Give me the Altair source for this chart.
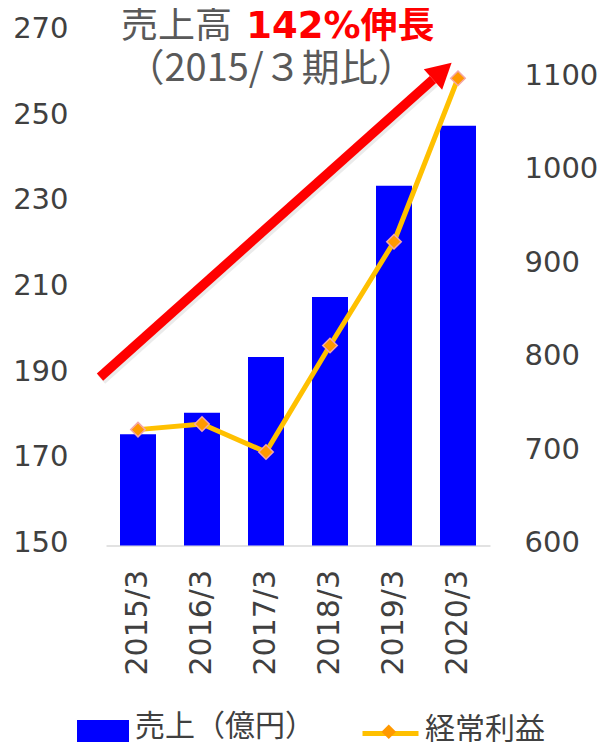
import math
import altair as alt
import pandas as pd

# ---- data ----
periods = ["2015/3", "2016/3", "2017/3", "2018/3", "2019/3", "2020/3"]
sales = [176, 181, 194, 208, 234, 248]          # 売上（億円） left axis
profit = [724, 730, 700, 814, 925, 1100]        # 経常利益 right axis
series_names = ["売上（億円）", "経常利益"]
marker_key = "経常利益（マーカー）"               # hidden key for the marker legend
sales_ticks = [150, 170, 190, 210, 230, 250, 270]
profit_ticks = [600, 700, 800, 900, 1000, 1100]
sales_domain = [150, 270]
profit_domain = [600, 1150]

# annotation texts and their anchors (x in category-slot units 0..6, y in sales units)
title_gray1 = ["売上高"]
title_gray1_x = [0.234]
title_gray1_y = [268.5]
title_gray2 = ["（2015/３期比）"]
title_gray2_x = [0.32]
title_gray2_y = [258.45]
title_red = ["142%伸長"]
title_red_x = [2.19]
title_red_y = [268.5]
arrow_from = [-0.094, 189.3]
arrow_to = [5.40, 262.7]

# ---- layout ----
W, H = 384, 514
px_x = W / len(periods)
px_y = H / (sales_domain[1] - sales_domain[0])
head_len = 25
dxp = (arrow_to[0] - arrow_from[0]) * px_x
dyp = (arrow_to[1] - arrow_from[1]) * px_y
L = math.hypot(dxp, dyp)
angle = math.degrees(math.atan2(dxp, dyp))
base_x = arrow_to[0] - head_len * dxp / L / px_x
base_y = arrow_to[1] - head_len * dyp / L / px_y

FONT_NUM = "DejaVu Sans"
FONT_JP = "Noto Sans CJK JP"
LABEL_COLOR = "#404040"
MARKER_SIZE = 210

df = pd.DataFrame({
    "period": periods, "sales": sales, "profit": profit,
    "s1": series_names[0], "s2": series_names[1], "s3": marker_key,
})

x_enc = alt.X(
    "period:N", sort=periods, title=None,
    scale=alt.Scale(paddingInner=0.4375, paddingOuter=0.21875),
    axis=alt.Axis(labelAngle=-90, labelFont=FONT_NUM, labelFontSize=30, labelColor=LABEL_COLOR,
                  labelPadding=24, ticks=False, domainColor="#D9D9D9", domainWidth=1.5,
                  grid=False, labelAlign="right", labelBaseline="middle"),
)

bars = alt.Chart(df).mark_bar().encode(
    x=x_enc,
    y=alt.Y("sales:Q", scale=alt.Scale(domain=sales_domain, zero=False, nice=False),
            axis=alt.Axis(orient="left", values=sales_ticks, title=None, domain=False, ticks=False,
                          grid=False, labelFont=FONT_NUM, labelFontSize=29, labelColor=LABEL_COLOR,
                          labelPadding=38, labelOffset=-3, format="d")),
    y2=alt.datum(sales_domain[0]),
    fill=alt.Fill("s1:N", scale=alt.Scale(domain=[series_names[0]], range=["#0000FF"]),
                  legend=alt.Legend(orient="none", legendX=-29, legendY=669.5, title=None,
                                    symbolType="M-1,-0.266L1,-0.266L1,0.574L-1,0.574Z", symbolSize=2704,
                                    symbolStrokeWidth=0, symbolFillColor="#0000FF", symbolOpacity=1,
                                    labelFont=FONT_JP, labelFontSize=30, labelColor=LABEL_COLOR,
                                    labelOffset=6, padding=0, labelLimit=0)),
)

y_profit = alt.Y("profit:Q", scale=alt.Scale(domain=profit_domain, zero=False, nice=False),
                 axis=alt.Axis(orient="right", values=profit_ticks, title=None, domain=False, ticks=False,
                               grid=False, labelFont=FONT_NUM, labelFontSize=29, labelColor=LABEL_COLOR,
                               labelPadding=34, labelOffset=-3, format="d"))

line = alt.Chart(df).mark_line(strokeWidth=5).encode(
    x=x_enc,
    y=y_profit,
    stroke=alt.Stroke("s2:N", scale=alt.Scale(domain=[series_names[1]], range=["#FFC000"]),
                      legend=alt.Legend(orient="none", legendX=254, legendY=667.5, title=None,
                                        symbolType="M-1,0.143L1,0.143", symbolSize=3136, symbolStrokeWidth=5,
                                        symbolStrokeColor="#FFC000", symbolFillColor="transparent",
                                        labelFont=FONT_JP, labelFontSize=30,
                                        labelColor=LABEL_COLOR, labelOffset=4, padding=0, labelLimit=0,
                                        zindex=1)),
)

points = alt.Chart(df).mark_point(filled=True, size=MARKER_SIZE, fill="#FF9900", stroke="#F4A6A6",
                                  strokeWidth=1.5, opacity=1).encode(
    x=x_enc,
    y=y_profit,
    shape=alt.Shape("s3:N", scale=alt.Scale(domain=[marker_key], range=["diamond"]),
                    legend=alt.Legend(orient="none", legendX=282 - math.sqrt(MARKER_SIZE) / 2,
                                      legendY=699.5 - math.sqrt(MARKER_SIZE) / 2, title=None,
                                      symbolSize=MARKER_SIZE, symbolFillColor="#FF9900",
                                      symbolStrokeColor="#F4A6A6", symbolStrokeWidth=1.5, symbolOpacity=1,
                                      labelExpr="''", labelFontSize=1, labelOffset=0, padding=0, zindex=5)),
)

ax = alt.X("x:Q", scale=alt.Scale(domain=[0, len(periods)], nice=False, zero=False), axis=None)
ay = alt.Y("y:Q", scale=alt.Scale(domain=sales_domain, nice=False, zero=False), axis=None)

arrow_df = pd.DataFrame({"x": [arrow_from[0]], "y": [arrow_from[1]], "x2": [base_x], "y2": [base_y]})
head_df = pd.DataFrame({"x": [base_x], "y": [base_y]})

shadow = alt.Chart(arrow_df).mark_rule(color="#000000", opacity=0.08, strokeWidth=11, xOffset=1.5,
                                       x2Offset=1.5, yOffset=2.5, y2Offset=2.5).encode(
    x=ax, y=ay, x2="x2:Q", y2="y2:Q")
shaft = alt.Chart(arrow_df).mark_rule(color="#FF0000", strokeWidth=9.5, strokeCap="butt").encode(
    x=ax, y=ay, x2="x2:Q", y2="y2:Q")
head = alt.Chart(head_df).mark_point(shape="M0,-2L1.1,0L-1.1,0Z", filled=True, size=625,
                                     color="#FF0000", opacity=1, angle=angle).encode(x=ax, y=ay)

tg1 = pd.DataFrame({"t": title_gray1, "x": title_gray1_x, "y": title_gray1_y})
tg2 = pd.DataFrame({"t": title_gray2, "x": title_gray2_x, "y": title_gray2_y})
tr = pd.DataFrame({"t": title_red, "x": title_red_x, "y": title_red_y})
gray_text1 = alt.Chart(tg1).mark_text(align="left", baseline="alphabetic", font=FONT_JP,
                                      fontSize=37, color="#595959").encode(x=ax, y=ay, text="t:N")
gray_text2 = alt.Chart(tg2).mark_text(align="left", baseline="alphabetic", font=FONT_JP,
                                      fontSize=38, color="#595959").encode(x=ax, y=ay, text="t:N")
red_text = alt.Chart(tr).mark_text(align="left", baseline="alphabetic", font=f"{FONT_NUM}, {FONT_JP}",
                                   fontSize=37, fontWeight="bold", color="#FF0000").encode(x=ax, y=ay, text="t:N")

main = alt.layer(bars, alt.layer(line, points)).resolve_scale(y="independent")
annot = alt.layer(shadow, shaft, head, gray_text1, gray_text2, red_text)

chart = alt.layer(main, annot).resolve_scale(x="independent", y="independent").properties(
    width=W, height=H,
    padding={"left": 98, "top": 23.5, "right": 108, "bottom": 196.5},
    autosize=alt.AutoSizeParams(type="none"),
    background="#FFFFFF",
).configure_view(strokeWidth=0)

chart.save("out.html", embed_options={"renderer": "svg", "actions": False})
